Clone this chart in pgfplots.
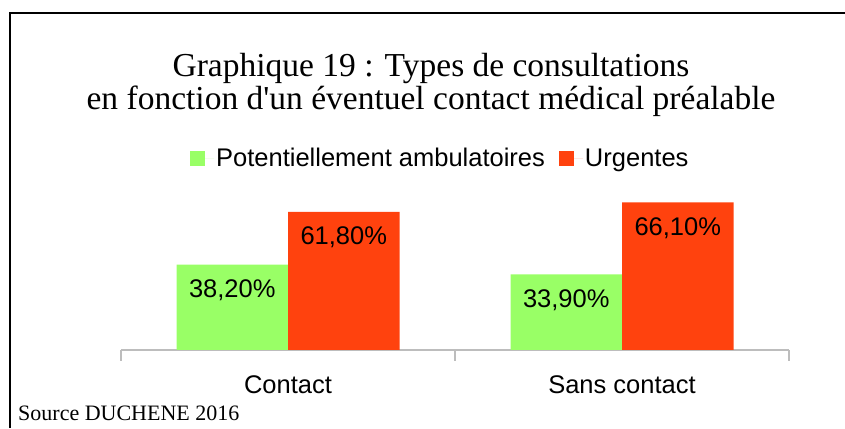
\documentclass[border=0pt]{standalone}
\usepackage{pgfplots}
\pgfplotsset{compat=1.18}
\usepackage{fontspec}
\setmainfont{Liberation Serif}
\newfontfamily\arial{Liberation Sans}
\definecolor{cgreen}{HTML}{99FF66}
\definecolor{cred}{HTML}{FF420E}
\definecolor{axgray}{HTML}{BDBDBD}
\begin{document}
\begin{tikzpicture}
\useasboundingbox (0,0) rectangle (845pt,428pt);
\draw[line width=1.3pt] (10pt,0) -- (10pt,415pt) -- (845pt,415pt);
\begin{axis}[
  at={(121pt,78pt)}, anchor=south west,
  scale only axis, width=668pt, height=160.8pt,
  xmin=-0.5, xmax=1.5, ymin=0, ymax=72,
  axis y line=none, axis x line*=bottom,
  x axis line style={draw=axgray, line width=1.2pt, -},
  ybar=0pt, bar width=111.5pt,
  xtick={0,1}, xticklabels={Contact, Sans contact},
  major tick length=0pt,
  extra x ticks={-0.5,0.5,1.5}, extra x tick labels={},
  extra x tick style={major tick length=11pt, tick align=outside, tick style={draw=axgray, line width=1.2pt}},
  xticklabel style={font=\arial\fontsize{25.5}{30}\selectfont, anchor=base, yshift=-43pt},
  /pgf/number format/assume math mode=true,
  nodes near coords={\pgfmathprintnumber[fixed,fixed zerofill,precision=2,use comma]{\pgfplotspointmeta}\%},
  every node near coord/.append style={font=\arial\fontsize{25.5}{30}\selectfont, anchor=base, yshift=-33pt, text=black},
  legend style={at={(0.478,1.194)}, anchor=center, draw=none, fill=none, legend columns=-1, font=\arial\fontsize{25.5}{30}\selectfont, /tikz/every even column/.append style={column sep=12pt}},
  legend image code/.code={\fill[#1] (0pt,-7.5pt) rectangle (15pt,7.5pt); \path (15pt,0pt) -- (24pt,0pt);},
]
\addplot[fill=cgreen, draw=none] coordinates {(0,38.2) (1,33.9)};
\addplot[fill=cred, draw=none] coordinates {(0,61.8) (1,66.1)};
\legend{Potentiellement ambulatoires, Urgentes}
\end{axis}
\node[font=\fontsize{33.5}{33}\selectfont, anchor=base] at (431pt,351pt) {Graphique 19 : Types de consultations};
\node[font=\fontsize{33.5}{33}\selectfont, anchor=base] at (431pt,318pt) {en fonction d\textquotesingle un éventuel contact médical préalable};
\node[anchor=base west, font=\fontsize{22}{26}\selectfont, inner sep=0pt] at (18pt,8pt) {Source DUCHENE 2016};
\end{tikzpicture}
\end{document}
